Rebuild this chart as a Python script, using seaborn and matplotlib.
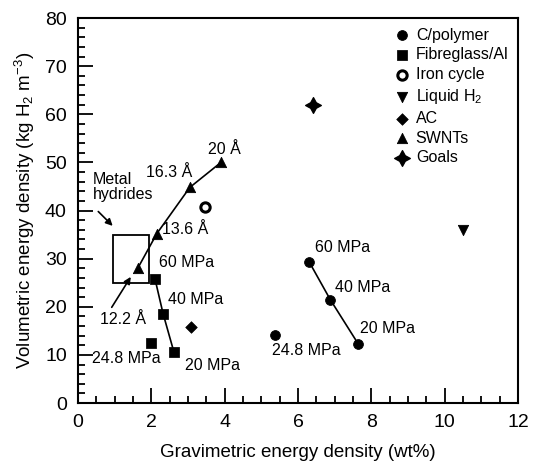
import matplotlib
matplotlib.use("Agg")
import matplotlib.pyplot as plt
import seaborn as sns
from matplotlib.patches import Rectangle
from matplotlib.ticker import MultipleLocator

# data
cpoly_x = [6.3, 6.88, 7.65]
cpoly_y = [29.4, 21.5, 12.2]
cpoly_labels = ["60 MPa", "40 MPa", "20 MPa"]
cpoly_248 = (5.37, 14.2)

fibre_x = [2.1, 2.32, 2.62]
fibre_y = [25.8, 18.6, 10.5]
fibre_labels = ["60 MPa", "40 MPa", "20 MPa"]
fibre_248 = (2.0, 12.4)

iron_x = [3.46]
iron_y = [40.8]
liquid_x = [10.5]
liquid_y = [36.0]
ac_x = [3.08]
ac_y = [15.9]
goals_x = [6.4]
goals_y = [62.0]

swnt_x = [3.9, 3.05, 2.15, 1.63]
swnt_y = [50.0, 44.8, 35.2, 28.0]
swnt_labels = ["20 Å", "16.3 Å", "13.6 Å", "12.2 Å"]

hydride_box = (0.95, 25.0, 1.95, 35.0)  # x0, y0, x1, y1

k = 'black'
sns.set_style('ticks', {'xtick.direction': 'in', 'ytick.direction': 'in',
                        'text.color': k, 'axes.labelcolor': k,
                        'xtick.color': k, 'ytick.color': k, 'axes.edgecolor': k})
plt.rcParams['font.family'] = ['Liberation Sans', 'DejaVu Sans']
plt.rcParams['mathtext.fontset'] = 'custom'
plt.rcParams['mathtext.rm'] = 'Liberation Sans'
plt.rcParams['mathtext.it'] = 'Liberation Sans'

fig = plt.figure(figsize=(5.33, 4.67), dpi=100)
ax = fig.add_axes([0.1463, 0.137, 0.8255, 0.8244])

# connecting lines
sns.lineplot(x=cpoly_x, y=cpoly_y, color=k, lw=1.2, sort=False, ax=ax)
sns.lineplot(x=fibre_x, y=fibre_y, color=k, lw=1.2, sort=False, ax=ax)
sns.lineplot(x=swnt_x, y=swnt_y, color=k, lw=1.2, sort=False, ax=ax)

sns.scatterplot(x=cpoly_x + [cpoly_248[0]], y=cpoly_y + [cpoly_248[1]], marker='o',
                s=50, color=k, edgecolor=k, label='C/polymer', ax=ax, zorder=3)
sns.scatterplot(x=fibre_x + [fibre_248[0]], y=fibre_y + [fibre_248[1]], marker='s',
                s=45, color=k, edgecolor=k, label='Fibreglass/Al', ax=ax, zorder=3)
sns.scatterplot(x=iron_x, y=iron_y, marker='o', s=45, facecolor='white',
                edgecolor=k, linewidth=2.2, label='Iron cycle', ax=ax, zorder=3)
sns.scatterplot(x=liquid_x, y=liquid_y, marker='v', s=55, color=k, edgecolor=k,
                label='Liquid H$_2$', ax=ax, zorder=3)
sns.scatterplot(x=ac_x, y=ac_y, marker='D', s=35, color=k, edgecolor=k,
                label='AC', ax=ax, zorder=3)
sns.scatterplot(x=swnt_x, y=swnt_y, marker='^', s=55, color=k, edgecolor=k,
                label='SWNTs', ax=ax, zorder=3)
sns.scatterplot(x=goals_x, y=goals_y, marker=(4, 1, 0), s=130, color=k, edgecolor=k,
                label='Goals', ax=ax, zorder=3)

# metal hydrides box
x0, y0, x1, y1 = hydride_box
ax.add_patch(Rectangle((x0, y0), x1 - x0, y1 - y0, fill=False, ec=k, lw=1.3))
fs = 11.5
ax.text(0.4, 44.8, "Metal\nhydrides", fontsize=fs, ha='left', va='center', linespacing=1.0)
ax.annotate('', xy=(1.0, 36.4), xytext=(0.5, 40.2),
            arrowprops=dict(arrowstyle='-|>', color=k, lw=1.2, mutation_scale=10))

# SWNT labels
ax.text(3.55, 52.6, swnt_labels[0], fontsize=fs, ha='left', va='center')
ax.text(1.85, 48.0, swnt_labels[1], fontsize=fs, ha='left', va='center')
ax.text(2.3, 36.0, swnt_labels[2], fontsize=fs, ha='left', va='center')
ax.text(0.6, 17.3, swnt_labels[3], fontsize=fs, ha='left', va='center')
ax.annotate('', xy=(1.48, 26.7), xytext=(0.88, 19.4),
            arrowprops=dict(arrowstyle='-|>', color=k, lw=1.2, mutation_scale=10))

# fibreglass labels
ax.text(2.2, 29.1, fibre_labels[0], fontsize=fs, ha='left', va='center')
ax.text(2.45, 21.6, fibre_labels[1], fontsize=fs, ha='left', va='center')
ax.text(2.92, 7.9, fibre_labels[2], fontsize=fs, ha='left', va='center')
ax.text(0.37, 9.3, "24.8 MPa", fontsize=fs, ha='left', va='center')

# C/polymer labels
ax.text(6.46, 32.4, cpoly_labels[0], fontsize=fs, ha='left', va='center')
ax.text(7.0, 24.1, cpoly_labels[1], fontsize=fs, ha='left', va='center')
ax.text(7.68, 15.4, cpoly_labels[2], fontsize=fs, ha='left', va='center')
ax.text(5.29, 11.0, "24.8 MPa", fontsize=fs, ha='left', va='center')

ax.set_xlim(0, 12)
ax.set_ylim(0, 80)
ax.xaxis.set_major_locator(MultipleLocator(2))
ax.xaxis.set_minor_locator(MultipleLocator(0.5))
ax.yaxis.set_major_locator(MultipleLocator(10))
ax.yaxis.set_minor_locator(MultipleLocator(2))
ax.tick_params(which='both', direction='in', top=False, right=False, bottom=True,
               left=True, width=1.3, color=k, labelcolor=k, labelsize=14)
ax.tick_params(which='major', length=11, pad=8)
ax.tick_params(which='minor', length=5)
for sp in ax.spines.values():
    sp.set_linewidth(1.5)
    sp.set_color(k)

ax.set_xlabel("Gravimetric energy density (wt%)", fontsize=13.5, labelpad=9, color=k)
ax.set_ylabel("Volumetric energy density (kg H$_2$ m$^{-3}$)", fontsize=13.5, labelpad=6, color=k)

leg = ax.legend(loc='upper right', frameon=False, fontsize=11.5, handletextpad=0.25,
                labelspacing=0.3, borderaxespad=0.2, handlelength=1.2, borderpad=0.4)
for t in leg.get_texts():
    t.set_color(k)

fig.savefig("out.png", dpi=100)
